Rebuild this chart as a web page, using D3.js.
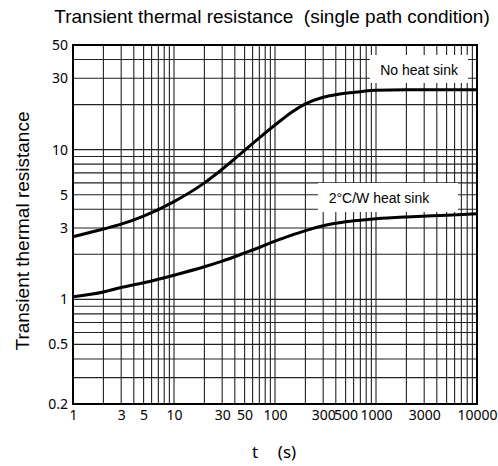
<!DOCTYPE html>
<html>
<head>
<meta charset="utf-8">
<script src="https://cdn.jsdelivr.net/npm/d3@7"></script>
<style>
  body { margin: 0; background: #fff; }
  svg { display: block; }
</style>
</head>
<body>
<svg id="chart" width="498" height="466"></svg>
<script>
// time axis (s)
var tVals = [1, 2, 3, 5, 10, 20, 30, 50, 70, 100, 150, 200, 300, 400, 500, 700, 1000, 2000, 5000, 10000];
// transient thermal resistance
var noSink = [2.62, 2.95, 3.18, 3.6, 4.5, 6.0, 7.4, 9.9, 12.0, 14.6, 18.0, 20.2, 22.4, 23.3, 23.8, 24.4, 24.9, 25.1, 25.1, 25.1];
var withSink = [1.04, 1.12, 1.2, 1.29, 1.45, 1.65, 1.8, 2.04, 2.22, 2.45, 2.7, 2.88, 3.1, 3.22, 3.3, 3.38, 3.45, 3.55, 3.65, 3.73];

var xTickLabels = [1, 3, 5, 10, 30, 50, 100, 300, 500, 1000, 3000, 10000];
var yTickLabels = [0.2, 0.5, 1, 3, 5, 10, 30, 50];

var svg = d3.select('#chart');
var margin = { left: 73, right: 21, top: 45, bottom: 62 };
var W = 498, H = 466;

var x = d3.scaleLog().domain([1, 10000]).range([margin.left, W - margin.right]);
var y = d3.scaleLog().domain([0.2, 50]).range([H - margin.bottom, margin.top]);

// grid values: 1..9 multiples of each decade
var xGrid = [];
[1, 10, 100, 1000].forEach(function(d) {
    for (var k = 1; k <= 9; k++) xGrid.push(k * d);
});
xGrid.push(10000);
var yGrid = [];
[0.1, 1, 10].forEach(function(d) {
    for (var k = 1; k <= 9; k++) {
        var v = +(k * d).toPrecision(3);
        if (v >= 0.2 && v <= 50) yGrid.push(v);
    }
});
yGrid.push(50);

var grid = svg.append('g');
grid.selectAll('line.vx')
    .data(xGrid)
    .enter()
    .append('line')
    .attr('x1', function(d) { return x(d); })
    .attr('x2', function(d) { return x(d); })
    .attr('y1', y(0.2))
    .attr('y2', y(50))
    .attr('stroke', '#222')
    .attr('stroke-width', 1.1);
grid.selectAll('line.hy')
    .data(yGrid)
    .enter()
    .append('line')
    .attr('y1', function(d) { return y(d); })
    .attr('y2', function(d) { return y(d); })
    .attr('x1', x(1))
    .attr('x2', x(10000))
    .attr('stroke', '#222')
    .attr('stroke-width', 1.1);

// label boxes (white background over grid)
function labelBox(x0, y0, x1, y1, tx, ty, text) {
    svg.append('rect')
        .attr('x', x0).attr('y', y0)
        .attr('width', x1 - x0).attr('height', y1 - y0)
        .attr('fill', '#fff');
    svg.append('text')
        .attr('x', tx).attr('y', ty)
        .attr('text-anchor', 'middle')
        .style('font-family', 'Liberation Sans, Arial, sans-serif')
        .style('font-size', '14px')
        .text(text);
}
labelBox(370, 55, 468, 83, x(2670), 75, 'No heat sink');
labelBox(318, 183, 458, 212, x(1070), 203, '2\u00b0C/W heat sink');

// curves
var line = d3.line()
    .x(function(d) { return x(d[0]); })
    .y(function(d) { return y(d[1]); })
    .curve(d3.curveMonotoneX);

[noSink, withSink].forEach(function(s) {
    svg.append('path')
        .datum(tVals.map(function(t, i) { return [t, s[i]]; }))
        .attr('d', line)
        .attr('fill', 'none')
        .attr('stroke', '#000')
        .attr('stroke-width', 3);
});

// frame
svg.append('rect')
    .attr('x', x(1)).attr('y', y(50))
    .attr('width', x(10000) - x(1)).attr('height', y(0.2) - y(50))
    .attr('fill', 'none')
    .attr('stroke', '#000')
    .attr('stroke-width', 2);

// axes
var xAxis = d3.axisBottom(x).tickValues(xTickLabels).tickSize(0).tickPadding(6)
    .tickFormat(function(d) { return String(d); });
var yAxis = d3.axisLeft(y).tickValues(yTickLabels).tickSize(0).tickPadding(5)
    .tickFormat(function(d) { return String(d); });

var gx = svg.append('g').attr('transform', 'translate(0,' + y(0.2) + ')').call(xAxis);
var gy = svg.append('g').attr('transform', 'translate(' + x(1) + ',0)').call(yAxis);
[gx, gy].forEach(function(g) {
    g.select('.domain').remove();
    g.selectAll('text')
        .attr('fill', '#000')
        .style('font-family', 'Noto Sans, Open Sans, sans-serif')
        .style('font-size', '14px');
});

// titles
svg.append('text')
    .attr('x', 272).attr('y', 23)
    .attr('text-anchor', 'middle')
    .style('font-family', 'Liberation Sans, Arial, sans-serif')
    .style('font-size', '19px')
    .attr('xml:space', 'preserve')
    .text('Transient thermal resistance  (single path condition)');

svg.append('text')
    .attr('transform', 'translate(29,' + 231 + ') rotate(-90)')
    .attr('text-anchor', 'middle')
    .style('font-family', 'Liberation Sans, Arial, sans-serif')
    .style('font-size', '19px')
    .text('Transient thermal resistance');

svg.append('text')
    .attr('x', 255).attr('y', 458)
    .attr('text-anchor', 'middle')
    .style('font-family', 'Noto Sans, Open Sans, sans-serif')
    .style('font-size', '17px')
    .text('t');
svg.append('text')
    .attr('x', 287).attr('y', 458)
    .attr('text-anchor', 'middle')
    .style('font-family', 'Noto Sans, Open Sans, sans-serif')
    .style('font-size', '17px')
    .text('(s)');
</script>
</body>
</html>
